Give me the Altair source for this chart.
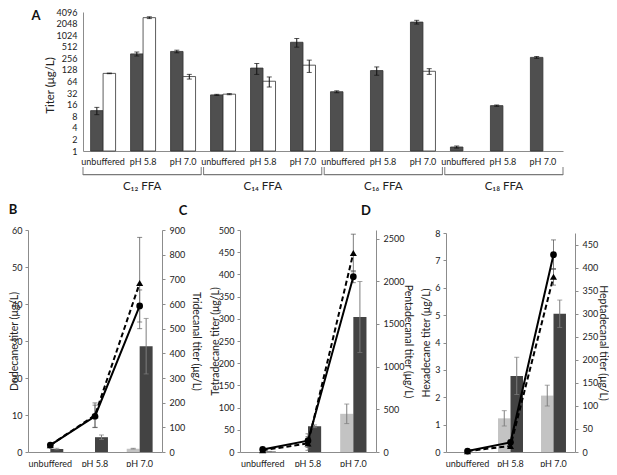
import altair as alt
import pandas as pd

W, H = 601, 459
FONT = "Lato"
TXT = "#222222"
AXC = "#8c8c8c"

# ---------------- Panel A data ----------------
groups = ["C₁₂ FFA", "C₁₄ FFA", "C₁₆ FFA", "C₁₈ FFA"]
conditions = ["unbuffered", "pH 5.8", "pH 7.0"]
a_dark = [11.2, 334, 387, 28.7, 143, 670, 34.7, 123, 2240, 1.27, 15.1, 271]
a_dark_err = [2.4, 40, 30, 1.0, 45, 170, 2.0, 30, 250, 0.08, 0.6, 15]
a_white = [104, 2920, 86, 30, 65, 170, 0, 0, 118, 0, 0, 0]
a_white_err = [2, 160, 12, 1, 19, 60, 0, 0, 20, 0, 0, 0]
a_ticks = [1, 2, 4, 8, 16, 32, 64, 128, 256, 512, 1024, 2048, 4096]

# ---------------- Panel B data ----------------
b_light = [0, 0, 0.9]
b_light_err = [0, 0, 0.1]
b_dark = [0.8, 4.0, 28.6]
b_dark_err = [0.2, 0.6, 7.5]
b_circle = [28, 145, 592]
b_circle_err = [5, 45, 65]
b_tri = [28, 149, 685]
b_tri_err = [5, 50, 185]
b_lticks = [0, 10, 20, 30, 40, 50, 60]
b_rticks = [0, 100, 200, 300, 400, 500, 600, 700, 800, 900]

# ---------------- Panel C data ----------------
c_light = [0, 0, 86]
c_light_err = [0, 0, 22]
c_dark = [1, 58, 304]
c_dark_err = [0.3, 3, 80]
c_circle = [30, 133, 2053]
c_circle_err = [10, 80, 70]
c_tri = [20, 100, 2331]
c_tri_err = [10, 80, 220]
c_lticks = [0, 50, 100, 150, 200, 250, 300, 350, 400, 450, 500]
c_rticks = [0, 500, 1000, 1500, 2000, 2500]

# ---------------- Panel D data ----------------
d_light = [0, 1.23, 2.06]
d_light_err = [0, 0.28, 0.38]
d_dark = [0, 2.78, 5.05]
d_dark_err = [0, 0.68, 0.5]
d_circle = [2, 21, 428]
d_circle_err = [1, 4, 32]
d_tri = [2, 13, 380]
d_tri_err = [1, 4, 18]
d_lticks = [0, 1, 2, 3, 4, 5, 6, 7, 8]
d_rticks = [0, 50, 100, 150, 200, 250, 300, 350, 400, 450]


# ================= Panel A =================
a_keys = [f"{g}|{c}" for g in groups for c in conditions]
rows = []
for i, k in enumerate(a_keys):
    for s, vals, errs in (("dark", a_dark, a_dark_err), ("white", a_white, a_white_err)):
        v = vals[i]
        if v > 0:
            rows.append(dict(key=k, series=s, value=v, base=1, lo=v - errs[i], hi=v + errs[i]))
dfA = pd.DataFrame(rows)

xA_scale = alt.Scale(domain=a_keys, range=[75, 555], paddingInner=0.375, paddingOuter=0.19)
xA_axis = alt.Axis(orient="bottom", offset=143 - H, title=None, ticks=False, labelAngle=0,
                   labelOverlap=False, labelPadding=6, domainColor=AXC,
                   labelExpr="split(datum.label, '|')[1]")
yA_scale = alt.Scale(type="log", base=2, domain=[1, 4096], range=[143, 4], nice=False)
yA_axis = alt.Axis(orient="left", offset=-75, values=a_ticks, format="d", grid=False, ticks=False,
                   domainColor=AXC, labelPadding=6, title="Titer (μg/L)", titleX=-33, titleY=77,
                   titleBaseline="middle", titleFontSize=11.5)
offA = alt.XOffset("series:N", scale=alt.Scale(domain=["dark", "white"], paddingInner=0, paddingOuter=0))


def xa():
    return alt.X("key:N", scale=xA_scale, axis=xA_axis)


def ya(f):
    return alt.Y(f, scale=yA_scale, axis=yA_axis)


baseA = alt.Chart(dfA)
barsA = baseA.mark_bar(stroke="#333333", strokeWidth=0.8).encode(
    x=xa(), xOffset=offA, y=ya("value:Q"), y2="base:Q",
    color=alt.Color("series:N", scale=alt.Scale(domain=["dark", "white"], range=["#4f4f4f", "#ffffff"]), legend=None),
)
errA = baseA.mark_rule(color="#111111", strokeWidth=1).encode(x=xa(), xOffset=offA, y=ya("lo:Q"), y2="hi:Q")
capHiA = baseA.mark_tick(color="#111111", thickness=1, size=5).encode(x=xa(), xOffset=offA, y=ya("hi:Q"))
capLoA = baseA.mark_tick(color="#111111", thickness=1, size=5).encode(x=xa(), xOffset=offA, y=ya("lo:Q"))
layerA = alt.layer(barsA, errA, capHiA, capLoA)

dfG = pd.DataFrame({"group": groups})
xG_scale = alt.Scale(domain=groups, range=[75, 555], paddingInner=0.02, paddingOuter=0)
xG_axis = alt.Axis(orient="bottom", offset=169 - H, title=None, domain=False, ticks=False,
                   labelAngle=0, labelPadding=3, labelFontSize=11.5, labelOverlap=False)
baseG = alt.Chart(dfG)
hbar = baseG.mark_bar(color="#7a7a7a").encode(
    x=alt.X("group:N", scale=xG_scale, axis=xG_axis), y=alt.value(166), y2=alt.value(167.2))
vl = baseG.mark_rule(color="#7a7a7a").encode(
    x=alt.X("group:N", bandPosition=0, scale=xG_scale, axis=xG_axis), y=alt.value(159), y2=alt.value(167))
vr = baseG.mark_rule(color="#7a7a7a").encode(
    x=alt.X("group:N", bandPosition=1, scale=xG_scale, axis=xG_axis), y=alt.value(159), y2=alt.value(167))
layerG = alt.layer(hbar, vl, vr)

panelA = alt.layer(layerA, layerG).resolve_scale(x="independent")


# ================= Bottom panels =================
def bottom(x0, x1, ytop, ybot, light, light_err, dark, dark_err, circ, circ_err, tri, tri_err,
           ldom, lticks, rdom, rticks, ltitle, rtitle, ltx, rtx):
    brow = []
    for i, c in enumerate(conditions):
        for s, vals, errs in (("light", light, light_err), ("dark", dark, dark_err)):
            v = vals[i]
            if v > 0:
                brow.append(dict(cond=c, series=s, value=v, lo=max(v - errs[i], 0), hi=v + errs[i]))
    dfb = pd.DataFrame(brow)
    lrow = []
    for i, c in enumerate(conditions):
        for s, vals, errs in (("circle", circ, circ_err), ("tri", tri, tri_err)):
            v = vals[i]
            lrow.append(dict(cond=c, series=s, value=v, lo=max(v - errs[i], 0), hi=v + errs[i]))
    dfl = pd.DataFrame(lrow)

    xs = alt.Scale(domain=conditions, range=[x0, x1], paddingInner=0.42, paddingOuter=0.21)
    xax = alt.Axis(orient="bottom", offset=ybot - H, title=None, ticks=False, labelAngle=0,
                   labelOverlap=False, labelPadding=7, domainColor=AXC)

    def X():
        return alt.X("cond:N", scale=xs, axis=xax)

    yls = alt.Scale(domain=ldom, range=[ybot, ytop], nice=False, zero=True)
    ylax = alt.Axis(orient="left", offset=-x0, values=lticks, format="d", grid=False, tickSize=3,
                    tickColor=AXC, domainColor=AXC, labelPadding=3, title=ltitle, titleX=ltx,
                    titleBaseline="middle")
    yrs = alt.Scale(domain=rdom, range=[ybot, ytop], nice=False, zero=True)
    yrax = alt.Axis(orient="right", offset=x1 - W, values=rticks, format="d", grid=False, tickSize=3,
                    tickColor=AXC, domainColor=AXC, labelPadding=4, title=rtitle, titleX=rtx,
                    titleBaseline="middle", titleAngle=90)

    def YL(f):
        return alt.Y(f, scale=yls, axis=ylax)

    def YR(f):
        return alt.Y(f, scale=yrs, axis=yrax)

    off = alt.XOffset("series:N", scale=alt.Scale(domain=["light", "dark"], paddingInner=0, paddingOuter=0))
    bb = alt.Chart(dfb)
    bars = bb.mark_bar().encode(
        x=X(), xOffset=off, y=YL("value:Q"),
        color=alt.Color("series:N", scale=alt.Scale(domain=["light", "dark"], range=["#c3c3c3", "#434343"]), legend=None),
    )
    berr = bb.mark_rule(color="#7d7d7d", strokeWidth=1).encode(x=X(), xOffset=off, y=YL("lo:Q"), y2="hi:Q")
    bch = bb.mark_tick(color="#7d7d7d", thickness=1, size=5).encode(x=X(), xOffset=off, y=YL("hi:Q"))
    bcl = bb.mark_tick(color="#7d7d7d", thickness=1, size=5).encode(x=X(), xOffset=off, y=YL("lo:Q"))
    left = alt.layer(bars, berr, bch, bcl)

    lb = alt.Chart(dfl)
    lerr = lb.mark_rule(color="#7d7d7d", strokeWidth=1).encode(x=X(), y=YR("lo:Q"), y2="hi:Q")
    lch = lb.mark_tick(color="#555555", thickness=1, size=5).encode(x=X(), y=YR("hi:Q"))
    lcl = lb.mark_tick(color="#555555", thickness=1, size=5).encode(x=X(), y=YR("lo:Q"))
    line1 = lb.transform_filter(alt.datum.series == "circle").mark_line(color="black", strokeWidth=2).encode(
        x=X(), y=YR("value:Q"))
    line2 = lb.transform_filter(alt.datum.series == "tri").mark_line(color="black", strokeWidth=2, strokeDash=[5, 3]).encode(
        x=X(), y=YR("value:Q"))
    pt1 = lb.transform_filter(alt.datum.series == "circle").mark_point(shape="circle", filled=True, size=45, color="black", opacity=1).encode(
        x=X(), y=YR("value:Q"))
    pt2 = lb.transform_filter(alt.datum.series == "tri").mark_point(shape="triangle-up", filled=True, size=50, color="black", opacity=1).encode(
        x=X(), y=YR("value:Q"))
    right = alt.layer(lerr, lch, lcl, line1, line2, pt2, pt1)
    return alt.layer(left, right).resolve_scale(y="independent")


panelB = bottom(20, 154, 222, 444, b_light, b_light_err, b_dark, b_dark_err, b_circle, b_circle_err,
                b_tri, b_tri_err, [0, 60], b_lticks, [0, 900], b_rticks,
                "Dodecane titer (μg/L)", "Tridecanal titer (μg/L)", -14, 33)
panelC = bottom(232, 368, 222, 444, c_light, c_light_err, c_dark, c_dark_err, c_circle, c_circle_err,
                c_tri, c_tri_err, [0, 500], c_lticks, [0, 2600], c_rticks,
                "Tetradecane titer (μg/L)", "Pentadecanal titer (μg/L)", -25, 31)
panelD = bottom(438, 567, 225, 444, d_light, d_light_err, d_dark, d_dark_err, d_circle, d_circle_err,
                d_tri, d_tri_err, [0, 8], d_lticks, [0, 475], d_rticks,
                "Hexadecane titer (μg/L)", "Heptadecanal titer (μg/L)", -20, 27)


def letter(t, x, y):
    return alt.Chart(pd.DataFrame({"t": [t]})).mark_text(
        fontWeight="bold", fontSize=13, font=FONT, color="#111111", align="center", baseline="middle"
    ).encode(text="t:N", x=alt.value(x), y=alt.value(y))


chart = alt.layer(
    panelA, panelB, panelC, panelD,
    letter("A", 28, 8), letter("B", 5, 202), letter("C", 175, 203), letter("D", 358, 203),
).resolve_scale(
    x="independent", y="independent", xOffset="independent", color="independent"
).properties(
    width=W, height=H, padding=0, autosize=alt.AutoSizeParams(type="none")
).configure_view(stroke=None).configure_axis(
    labelFont=FONT, titleFont=FONT, labelColor=TXT, titleColor=TXT, labelFontSize=9,
    titleFontSize=10.5, titleFontWeight="normal"
)

chart.save("out.html", embed_options={"renderer": "svg", "actions": False})
